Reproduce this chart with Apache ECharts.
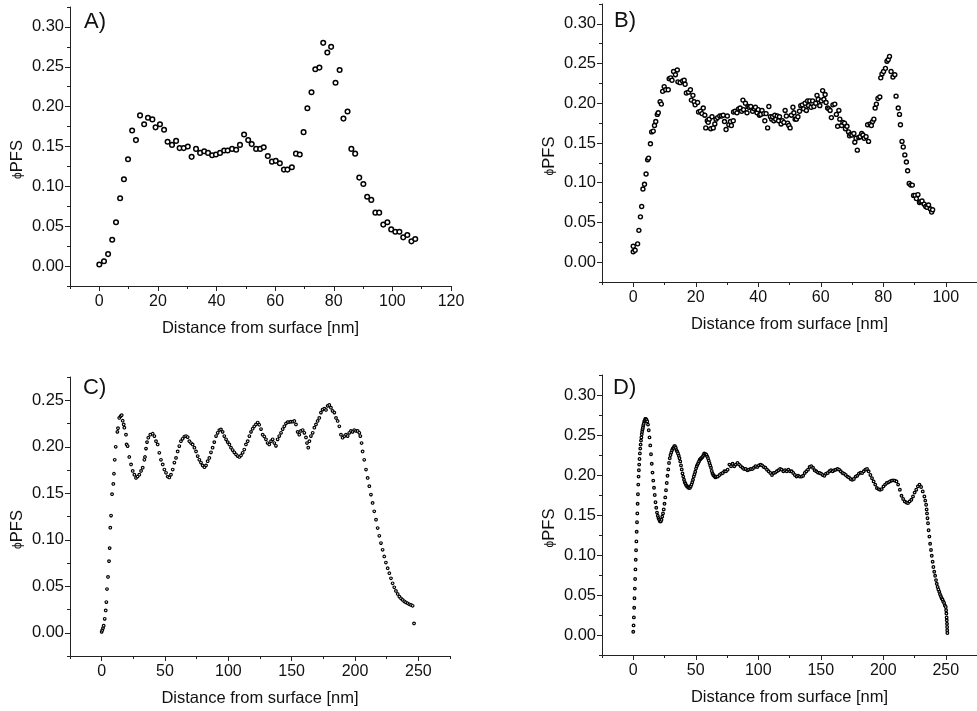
<!DOCTYPE html>
<html><head><meta charset="utf-8">
<script src="https://cdn.jsdelivr.net/npm/echarts@6/dist/echarts.min.js"></script>
<style>html,body{margin:0;padding:0;background:#fff}#c{width:977px;height:711px}</style>
</head><body><div id="c"></div>
<script>
// ---------- data ----------
const pointsA = [[0,0.002],[1.6,0.006],[3.0,0.015],[4.4,0.033],[5.7,0.055],[7.1,0.085],[8.4,0.109],[9.8,0.134],[11.2,0.170],[12.5,0.158],
[13.9,0.189],[15.3,0.178],[16.6,0.186],[18.1,0.184],[19.2,0.174],[20.7,0.178],[22.1,0.171],[23.3,0.156],[24.8,0.152],[26.2,0.157],
[27.4,0.148],[28.8,0.148],[30.2,0.150],[31.5,0.137],[33.0,0.147],[34.4,0.142],[35.8,0.144],[37.1,0.142],[38.5,0.139],[39.8,0.140],
[41.2,0.142],[42.6,0.145],[43.8,0.145],[45.3,0.147],[46.7,0.146],[48.0,0.152],[49.4,0.165],[50.8,0.158],[52.0,0.153],[53.5,0.147],
[54.9,0.147],[56.1,0.149],[57.5,0.138],[58.9,0.131],[60.2,0.132],[61.6,0.129],[63.0,0.121],[64.2,0.121],[65.7,0.124],[67.1,0.141],
[68.4,0.140],[69.7,0.168],[71.0,0.198],[72.4,0.218],[73.7,0.247],[75.1,0.249],[76.4,0.280],[77.8,0.268],[79.1,0.275],[80.6,0.230],
[82.0,0.246],[83.3,0.185],[84.7,0.194],[86.0,0.147],[87.3,0.141],[88.7,0.111],[90.1,0.103],[91.4,0.087],[92.8,0.083],[94.2,0.067],
[95.5,0.067],[96.9,0.052],[98.3,0.055],[99.6,0.046],[101.0,0.043],[102.4,0.043],[103.7,0.036],[105.1,0.039],[106.5,0.031],[107.8,0.034]];

const xB = [0.0,0.0,0.6,1.4,1.8,2.3,2.7,3.1,3.6,4.1,4.6,4.9,5.5,5.9,6.4,6.8,7.2,7.7,8.0,8.6,
9.0,9.4,9.9,10.4,11.2,11.5,12.0,12.4,12.9,13.5,14.1,14.3,15.0,15.8,16.3,16.6,17.0,17.7,18.3,18.6,
19.1,19.5,19.8,20.6,20.9,21.5,22.0,22.4,22.9,23.2,23.7,24.0,24.3,24.8,25.2,25.6,26.1,26.5,27.0,27.7,
28.3,28.8,29.2,29.7,30.1,30.6,31.1,31.4,32.0,32.1,32.6,33.2,33.7,34.2,34.7,35.1,35.3,35.9,36.4,36.7,
37.1,37.6,38.2,38.7,39.1,39.6,40.0,40.4,40.8,41.2,41.8,42.1,42.5,43.0,43.4,43.9,44.3,44.6,45.0,45.3,
45.6,46.1,46.5,46.8,47.3,47.7,48.2,48.6,49.0,49.4,49.8,50.2,50.6,51.1,51.4,51.8,52.2,52.7,53.2,53.6,
54.1,54.5,55.0,55.4,55.8,56.1,56.5,56.9,57.4,57.8,58.4,58.8,59.2,59.7,60.2,60.6,61.0,61.4,61.7,62.2,
62.6,63.0,63.4,63.9,64.5,65.0,65.4,65.8,66.1,66.7,67.1,67.6,67.9,68.4,68.9,69.2,69.6,70.0,70.6,70.9,
71.3,71.7,72.2,72.6,73.1,73.5,73.9,74.5,75.0,75.3,75.8,76.2,76.6,77.0,77.4,77.8,78.3,78.9,79.2,79.6,
80.1,80.7,81.2,81.6,82.0,82.5,83.1,83.7,84.1,84.8,85.2,85.5,86.0,86.4,86.9,87.4,87.8,88.3,88.8,89.3,
89.7,90.2,90.6,91.1,91.6,92.0,92.4,93.1,93.6,94.0,94.5,95.1,95.5,95.8];
const yB = [0.020,0.013,0.015,0.023,0.040,0.057,0.070,0.092,0.098,0.111,0.129,0.131,0.149,0.164,0.165,0.172,0.177,0.186,0.188,0.202,
0.199,0.215,0.221,0.217,0.217,0.231,0.232,0.229,0.240,0.236,0.242,0.227,0.226,0.228,0.229,0.224,0.213,0.214,0.217,0.204,
0.210,0.202,0.198,0.201,0.189,0.190,0.187,0.194,0.185,0.169,0.178,0.176,0.180,0.168,0.183,0.169,0.174,0.180,0.182,0.184,
0.184,0.185,0.177,0.167,0.184,0.173,0.177,0.172,0.178,0.189,0.190,0.188,0.193,0.194,0.190,0.204,0.192,0.200,0.188,0.196,
0.195,0.196,0.190,0.193,0.195,0.188,0.192,0.185,0.186,0.191,0.187,0.178,0.187,0.169,0.196,0.183,0.180,0.183,0.178,0.185,
0.180,0.184,0.178,0.183,0.174,0.178,0.176,0.191,0.184,0.175,0.172,0.169,0.185,0.195,0.188,0.180,0.180,0.183,0.190,0.197,
0.198,0.193,0.200,0.191,0.203,0.197,0.203,0.195,0.203,0.196,0.200,0.210,0.205,0.197,0.203,0.216,0.205,0.211,0.201,0.194,
0.193,0.191,0.182,0.198,0.199,0.186,0.171,0.191,0.180,0.172,0.176,0.175,0.168,0.171,0.164,0.159,0.161,0.160,0.162,0.151,
0.156,0.141,0.157,0.158,0.162,0.160,0.156,0.158,0.173,0.152,0.174,0.172,0.177,0.180,0.194,0.199,0.206,0.208,0.232,0.237,
0.240,0.244,0.253,0.255,0.259,0.240,0.233,0.236,0.209,0.194,0.186,0.173,0.152,0.145,0.135,0.126,0.115,0.099,0.097,0.097,
0.084,0.084,0.080,0.085,0.075,0.076,0.077,0.073,0.070,0.069,0.072,0.067,0.063,0.066];

const pointsC = [[0,0.001],[0.5,0.003],[1.05,0.005],[1.6,0.0076],[2.4,0.015],[3.2,0.024],[3.7,0.033],[4.2,0.047],[5.0,0.060],[5.8,0.077],
[6.3,0.091],[6.8,0.113],[7.4,0.126],[8.2,0.149],[9.2,0.160],[9.7,0.171],[10.3,0.186],[11.1,0.200],[12.4,0.216],[12.9,0.220],
[13.9,0.231],[15.0,0.233],[15.8,0.234],[16.6,0.228],[17.4,0.224],[17.9,0.2205],[19.2,0.213],[19.7,0.2025],[20.5,0.2007],[21.8,0.189],
[23.2,0.181],[24.5,0.174],[25.8,0.170],[27.1,0.1665],[28.4,0.168],[29.7,0.170],[31.1,0.174],[32.4,0.1775],[33.7,0.186],[34.2,0.189],
[35.0,0.198],[35.8,0.205],[36.8,0.2097],[38.4,0.213],[40.3,0.214],[41.6,0.2115],[42.9,0.206],[44.2,0.2025],[45.5,0.1935],[46.8,0.186],
[48.2,0.181],[49.5,0.1755],[50.8,0.172],[52.1,0.168],[53.4,0.167],[54.7,0.170],[56.1,0.1755],[57.4,0.183],[58.7,0.188],[60.0,0.195],
[61.3,0.2007],[62.6,0.206],[63.9,0.2086],[65.3,0.211],[66.6,0.2115],[67.9,0.2104],[69.2,0.206],[70.5,0.204],[71.8,0.2025],[73.2,0.199],
[74.5,0.195],[75.8,0.190],[77.1,0.186],[78.4,0.183],[79.7,0.180],[81.1,0.178],[82.4,0.180],[83.7,0.1845],[85.0,0.188],[86.3,0.194],
[87.6,0.199],[88.9,0.205],[90.3,0.2115],[91.6,0.215],[92.9,0.218],[94.2,0.2187],[95.5,0.216],[96.8,0.2115],[98.2,0.208],[99.5,0.205],
[100.8,0.2025],[102.1,0.199],[103.4,0.1964],[104.7,0.194],[106.1,0.1917],[107.4,0.190],[108.7,0.189],[110.0,0.1906],[111.3,0.1935],[112.6,0.197],
[113.9,0.2025],[115.3,0.206],[116.6,0.2115],[117.9,0.216],[119.2,0.2194],[120.5,0.222],[121.8,0.224],[123.2,0.226],[124.4,0.2237],[125.8,0.219],
[127.1,0.213],[128.4,0.211],[129.7,0.208],[131.0,0.204],[132.3,0.2025],[133.7,0.206],[135.0,0.208],[136.3,0.204],[137.6,0.201],[138.9,0.208],
[140.2,0.2115],[141.6,0.215],[142.9,0.219],[144.2,0.222],[145.5,0.225],[146.8,0.2266],[148.1,0.2266],[149.4,0.227],[150.8,0.227],[152.1,0.2277],
[153.4,0.224],[154.7,0.216],[156.0,0.213],[157.3,0.217],[158.7,0.218],[160.0,0.215],[161.3,0.210],[162.1,0.204],[163.1,0.199],[164.0,0.206],
[165.2,0.2115],[166.6,0.215],[167.9,0.2205],[169.2,0.224],[170.5,0.2277],[171.8,0.231],[173.1,0.2367],[174.4,0.240],[175.8,0.241],[177.1,0.2396],
[178.4,0.244],[179.7,0.245],[181.0,0.242],[182.3,0.2385],[183.7,0.2367],[185.0,0.231],[186.3,0.2277],[187.6,0.222],[188.9,0.213],[190.2,0.2097],
[191.6,0.2115],[192.9,0.213],[194.2,0.2115],[195.5,0.215],[196.8,0.217],[198.1,0.216],[199.4,0.218],[200.8,0.217],[202.1,0.217],[203.4,0.215],
[204.2,0.2115],[205.2,0.204],[206.0,0.195],[207.3,0.186],[208.7,0.1755],[210.0,0.1665],[211.3,0.1576],[212.6,0.1486],[213.9,0.1396],[215.2,0.1306],
[216.6,0.1216],[217.9,0.1126],[219.2,0.1043],[220.5,0.0964],[221.8,0.0892],[223.1,0.082],[224.4,0.0755],[225.8,0.0694],[227.1,0.064],[228.4,0.0586],
[229.7,0.0532],[231.0,0.0489],[232.3,0.045],[233.7,0.0417],[235.0,0.0388],[236.3,0.037],[237.6,0.0353],[238.9,0.0338],[240.2,0.0327],[241.6,0.0317],
[242.9,0.0306],[244.2,0.0299],[245.5,0.029],[246.6,0.010]];

const pointsD = [[0,0.004],[0.25,0.012],[0.5,0.022],[0.75,0.034],[1.0,0.046],[1.25,0.058],[1.5,0.070],[1.75,0.082],[2.0,0.094],[2.25,0.106],
[2.5,0.117],[2.75,0.129],[3.0,0.141],[3.25,0.152],[3.5,0.164],[3.75,0.176],[4.0,0.188],[4.25,0.198],[4.5,0.206],[4.75,0.213],
[5.0,0.220],[5.3,0.227],[5.6,0.233],[5.9,0.238],[6.2,0.243],[6.5,0.247],[6.8,0.251],[7.1,0.254],[7.4,0.257],[7.7,0.259],
[8.0,0.262],[8.4,0.264],[8.8,0.267],[9.2,0.268],[9.6,0.270],[10.0,0.270],[10.6,0.269],[11.2,0.267],[11.8,0.263],[12.4,0.256],
[13.0,0.247],[13.6,0.237],[14.2,0.226],[14.8,0.214],[15.4,0.203],[16.0,0.193],[16.6,0.184],[17.2,0.175],[17.8,0.166],[18.4,0.159],
[19.0,0.153],[19.6,0.149],[20.2,0.146],[20.8,0.144],[21.4,0.142],[22.0,0.142],[22.6,0.144],[23.2,0.148],[23.8,0.152],[24.4,0.157],
[25.0,0.164],[25.6,0.172],[26.2,0.181],[26.8,0.190],[27.4,0.199],[28.0,0.207],[28.6,0.215],[29.2,0.221],[29.8,0.225],[30.4,0.228],
[31.0,0.231],[31.6,0.233],[32.2,0.234],[32.8,0.236],[33.4,0.236],[34.0,0.234],[34.6,0.231],[35.2,0.229],[35.8,0.227],[36.4,0.224],
[37.0,0.221],[37.6,0.217],[38.2,0.212],[38.8,0.207],[39.4,0.202],[40.0,0.198],[40.6,0.194],[41.2,0.191],[41.8,0.189],[42.4,0.187],
[43.0,0.186],[43.6,0.185],[44.2,0.184],[44.8,0.184],[45.4,0.184],[46.0,0.186],[46.6,0.188],[47.2,0.191],[47.8,0.194],[48.4,0.198],
[49.0,0.201],[49.6,0.204],[50.2,0.208],[50.8,0.211],[51.4,0.213],[52.0,0.215],[52.6,0.217],[53.2,0.219],[53.8,0.220],[54.4,0.221],
[55.0,0.222],[55.6,0.223],[56.2,0.225],[56.8,0.227],[57.4,0.226],[58.0,0.226],[58.6,0.225],[59.2,0.223],[59.8,0.221],[60.4,0.218],
[61.0,0.215],[61.6,0.212],[62.2,0.209],[62.8,0.205],[63.4,0.202],[64.0,0.200],[64.6,0.199],[65.2,0.198],[65.8,0.197],[66.4,0.198],
[67.7,0.198],[69.0,0.200],[70.3,0.2017],[71.6,0.2025],[72.9,0.2046],[74.2,0.2046],[75.5,0.2067],[76.9,0.213],[78.2,0.211],[79.5,0.214],
[80.8,0.211],[82.1,0.213],[83.4,0.215],[84.7,0.213],[86.0,0.211],[87.4,0.209],[88.7,0.2075],[90.0,0.2075],[91.3,0.206],[92.6,0.2067],
[93.9,0.2075],[95.2,0.2075],[96.5,0.209],[97.8,0.211],[99.2,0.21],[100.5,0.212],[101.8,0.213],[103.1,0.212],[104.4,0.21],[105.7,0.209],
[107.0,0.2067],[108.3,0.2046],[109.7,0.2025],[111.0,0.200],[112.3,0.2025],[113.6,0.203],[114.9,0.2046],[116.2,0.206],[117.5,0.2075],[118.8,0.2067],
[120.1,0.2046],[121.5,0.206],[122.8,0.2046],[124.1,0.2067],[125.4,0.2046],[126.7,0.2046],[128.0,0.2025],[129.3,0.200],[130.6,0.198],[131.9,0.199],
[133.3,0.198],[134.6,0.198],[135.9,0.199],[137.2,0.2025],[138.5,0.2046],[139.8,0.2067],[141.1,0.21],[142.4,0.211],[143.8,0.209],[145.1,0.206],
[146.4,0.2046],[147.7,0.203],[149.0,0.2025],[150.3,0.2017],[151.6,0.200],[152.9,0.199],[154.2,0.2017],[155.6,0.2025],[156.9,0.2046],[158.2,0.206],
[159.5,0.2046],[160.8,0.206],[162.1,0.2067],[163.4,0.2075],[164.7,0.2067],[166.0,0.2046],[167.4,0.2025],[168.7,0.2017],[170.0,0.200],[171.3,0.198],
[172.6,0.197],[173.9,0.195],[175.2,0.194],[176.5,0.195],[177.9,0.198],[179.2,0.199],[180.5,0.2017],[181.8,0.203],[183.1,0.2025],[184.4,0.2046],
[185.7,0.2067],[187.0,0.2075],[188.3,0.2046],[189.7,0.200],[191.0,0.196],[192.3,0.192],[193.6,0.188],[194.9,0.1837],[196.2,0.1824],[197.5,0.1816],
[198.8,0.1824],[200.2,0.1858],[201.5,0.188],[202.8,0.190],[204.1,0.1908],[205.4,0.192],[206.7,0.193],[208.0,0.1933],[209.3,0.193],[210.6,0.192],
[211.9,0.188],[213.3,0.1816],[214.6,0.174],[215.9,0.170],[217.2,0.167],[218.5,0.1657],[219.8,0.1649],[221.1,0.167],[222.5,0.169],[223.8,0.1732],
[225.1,0.178],[226.4,0.1816],[227.7,0.1858],[229.0,0.188],[230.3,0.185],[231.6,0.1795],[232.9,0.1732],[233.6,0.168],[234.3,0.1628],[234.7,0.157],
[235.0,0.152],[235.4,0.146],[235.8,0.1397],[236.3,0.131],[236.9,0.123],[237.5,0.114],[238.2,0.1063],[238.8,0.099],[239.5,0.0916],[240.1,0.085],
[240.8,0.079],[241.5,0.074],[242.2,0.0686],[242.8,0.064],[243.5,0.060],[244.1,0.057],[244.8,0.054],[245.4,0.051],[246.1,0.0485],[246.7,0.046],
[247.4,0.0444],[248.0,0.042],[248.7,0.040],[249.3,0.037],[250.0,0.035],[250.3,0.031],[250.5,0.0268],[250.7,0.022],[250.8,0.0184],[251.0,0.014],
[251.1,0.010],[251.2,0.006],[251.3,0.0025]];

// tick values
const xMajorAB = [0,20,40,60,80,100,120];
const xMinorAB = [-10,10,30,50,70,90,110];
const xMajorCD = [0,50,100,150,200,250];
const xMinorCD = [-25,25,75,125,175,225,275];
const yMajor30 = [0,0.05,0.10,0.15,0.20,0.25,0.30];
const yMinor30 = [-0.025,0.025,0.075,0.125,0.175,0.225,0.275,0.325];
const yMajor25 = [0,0.05,0.10,0.15,0.20,0.25];
const yMinor25 = [-0.025,0.025,0.075,0.125,0.175,0.225,0.275];
const panelLabels = ['A)','B)','C)','D)'];
const xTitle = 'Distance from surface [nm]';

// ---------- chart ----------
const FONT = "'Liberation Sans', Arial, sans-serif";
const INK = '#111';
const pairsB = xB.map((x,i)=>[x,yB[i]]);

const panels = [
  {grid:{left:70, top:7, width:381, height:279}, x:[-10,120], y:[-0.025,0.325], xM:xMajorAB, xm:xMinorAB, yM:yMajor30, ym:yMinor30, data:pointsA, size:4.6, bw:1.5, lab:[84,22.5]},
  {grid:{left:602, top:4, width:381, height:278}, x:[-10,110], y:[-0.025,0.325], xM:xMajorAB.slice(0,6), xm:xMinorAB, yM:yMajor30, ym:yMinor30, data:pairsB, size:4.0, bw:1.4, lab:[614,21.5]},
  {grid:{left:70, top:377, width:380, height:279}, x:[-25,275], y:[-0.025,0.275], xM:xMajorCD, xm:xMinorCD, yM:yMajor25, ym:yMinor25, data:pointsC, size:2.6, bw:1.15, lab:[83,389]},
  {grid:{left:602, top:375, width:381, height:280}, x:[-25,275], y:[-0.025,0.325], xM:xMajorCD, xm:xMinorCD, yM:yMajor30, ym:yMinor30, data:pointsD, size:2.6, bw:1.3, lab:[613,389]}
];

const grids=[], xAxes=[], yAxes=[], series=[], graphics=[];
panels.forEach((p,k)=>{
  grids.push(p.grid);
  const axLine = {show:true, onZero:false, lineStyle:{color:'#222', width:1}};
  xAxes.push({gridIndex:k, type:'value', position:'bottom', min:p.x[0], max:p.x[1], axisLine:axLine,
    axisTick:{show:true, length:5, lineStyle:{color:'#222', width:1}, customValues:p.xM},
    axisLabel:{customValues:p.xM, color:INK, fontFamily:FONT, fontSize:16, margin:8, formatter:v=>String(v)},
    splitLine:{show:false}, name:xTitle, nameLocation:'middle', nameGap:34,
    nameTextStyle:{color:INK, fontFamily:FONT, fontSize:16.5}});
  xAxes.push({gridIndex:k, type:'value', position:'bottom', min:p.x[0], max:p.x[1], axisLine:{show:false, onZero:false},
    axisTick:{show:true, length:3, lineStyle:{color:'#222', width:1}, customValues:p.xm},
    axisLabel:{show:false}, splitLine:{show:false}});
  yAxes.push({gridIndex:k, type:'value', position:'left', min:p.y[0], max:p.y[1], axisLine:axLine,
    axisTick:{show:true, length:5, lineStyle:{color:'#222', width:1}, customValues:p.yM},
    axisLabel:{customValues:p.yM, color:INK, fontFamily:FONT, fontSize:16.5, margin:6, formatter:v=>v.toFixed(2)},
    splitLine:{show:false}, name:'{p|ϕ}PFS', nameLocation:'middle', nameGap:44,
    nameTextStyle:{color:INK, fontFamily:FONT, fontSize:16.5, padding:[0,26,0,0], rich:{p:{fontSize:12, fontFamily:FONT, color:INK}}}});
  yAxes.push({gridIndex:k, type:'value', position:'left', min:p.y[0], max:p.y[1], axisLine:{show:false, onZero:false},
    axisTick:{show:true, length:3, lineStyle:{color:'#222', width:1}, customValues:p.ym},
    axisLabel:{show:false}, splitLine:{show:false}});
  series.push({type:'scatter', xAxisIndex:2*k, yAxisIndex:2*k, data:p.data, symbol:'circle', symbolSize:p.size,
    itemStyle:{color:'#fff', borderColor:'#000', borderWidth:p.bw, opacity:1}, silent:true});
  graphics.push({type:'text', left:p.lab[0], top:p.lab[1]-12, style:{text:panelLabels[k], fill:INK, font:'22px '+FONT}});
});

const chart = echarts.init(document.getElementById('c'), null, {renderer:'canvas'});
chart.setOption({animation:false, backgroundColor:'#fff', grid:grids, xAxis:xAxes, yAxis:yAxes, series:series, graphic:graphics});
</script></body></html>
